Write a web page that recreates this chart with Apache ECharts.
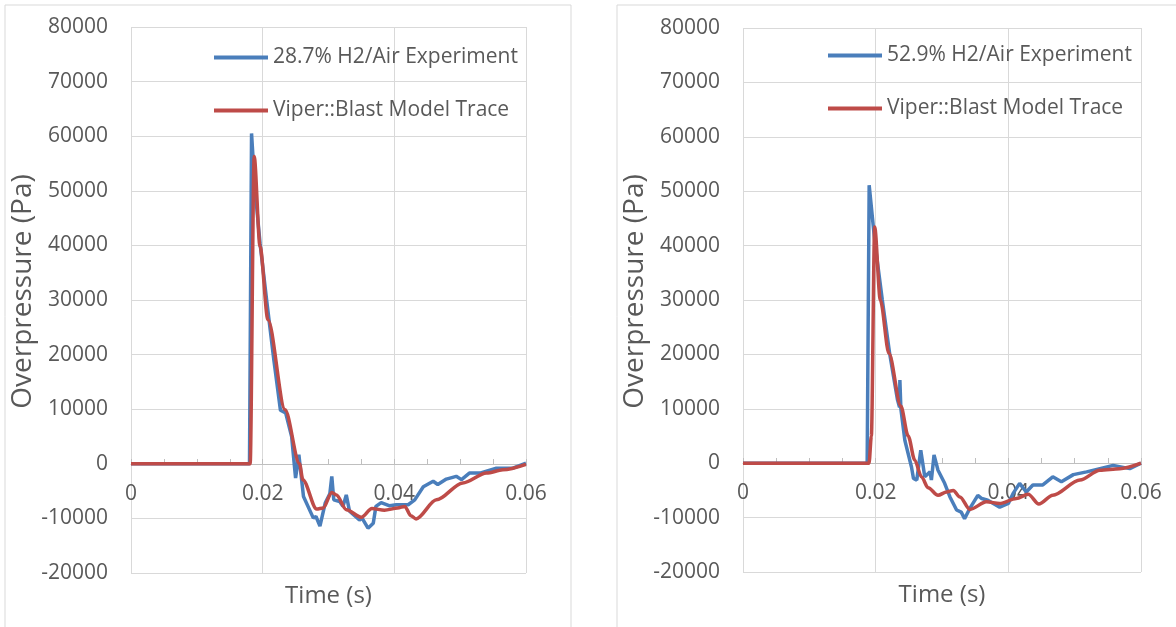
<!DOCTYPE html>
<html>
<head>
<meta charset="utf-8">
<script src="https://cdn.jsdelivr.net/npm/echarts@6/dist/echarts.min.js"></script>
<style>
  html, body { margin: 0; padding: 0; background: #fff; }
  #chart { width: 1176px; height: 627px; }
</style>
</head>
<body>
<div id="chart"></div>
<script>
// time (s) and overpressure (Pa)
const leftExpTime = [0, 0.0180, 0.01831, 0.0188, 0.0196, 0.0206, 0.0217, 0.0227, 0.0229, 0.0235, 0.0244, 0.0250, 0.0255, 0.0262, 0.0277, 0.0281, 0.0287, 0.0295, 0.0302, 0.0305, 0.0308, 0.0317, 0.0322, 0.0327, 0.0332, 0.0347, 0.0351, 0.0360, 0.0368, 0.0372, 0.0380, 0.0393, 0.0403, 0.0421, 0.0431, 0.0444, 0.0459, 0.0466, 0.0479, 0.0494, 0.0502, 0.0514, 0.0530, 0.0555, 0.0580, 0.0600];
const leftExpPa = [0, 0, 60500, 50800, 40400, 30000, 19000, 9800, 9600, 9300, 5000, -2600, 1650, -6000, -9950, -9650, -11400, -7200, -5500, -2300, -6600, -6900, -7800, -5700, -8700, -10300, -9950, -11800, -10900, -7800, -7100, -7700, -7500, -7500, -6600, -4200, -3200, -3800, -2800, -2300, -2900, -1700, -1700, -800, -800, 100];

const leftModTime = [0, 0.0181, 0.01871, 0.0196, 0.0208, 0.0234, 0.0256, 0.0261, 0.0282, 0.0292, 0.0305, 0.0312, 0.0327, 0.0350, 0.0366, 0.0385, 0.0405, 0.0416, 0.0425, 0.0433, 0.0464, 0.0504, 0.0540, 0.0565, 0.0600];
const leftModPa = [0, 0, 56300, 39800, 26400, 9900, 0, -2900, -8300, -8100, -5250, -5700, -8400, -9800, -8200, -8500, -8100, -7800, -9500, -10100, -6600, -3500, -1700, -1100, -100];

const rightExpTime = [0, 0.01872, 0.01902, 0.0199, 0.0210, 0.0221, 0.0233, 0.0236, 0.02365, 0.0238, 0.0244, 0.0254, 0.0257, 0.0262, 0.0268, 0.0274, 0.0282, 0.0284, 0.0288, 0.0294, 0.0304, 0.0312, 0.0322, 0.0329, 0.0334, 0.0342, 0.0354, 0.0360, 0.0369, 0.0387, 0.0400, 0.0407, 0.0417, 0.0427, 0.0437, 0.0452, 0.0467, 0.0480, 0.0498, 0.0518, 0.0538, 0.0558, 0.0583, 0.0600];
const rightExpPa = [0, 0, 51100, 40400, 30000, 20200, 11600, 10300, 15300, 10000, 4200, -700, -2800, -3100, 2400, -2500, -1600, -3100, 1500, -1300, -3700, -6200, -8600, -9000, -10200, -8300, -5900, -6500, -6800, -8100, -7400, -5600, -3700, -5300, -4000, -4000, -2500, -3400, -2100, -1600, -1000, -400, -1000, 0];

const rightModTime = [0, 0.0190, 0.01935, 0.01985, 0.0207, 0.0220, 0.0238, 0.0249, 0.0259, 0.0269, 0.0279, 0.0294, 0.0307, 0.0317, 0.0327, 0.0342, 0.0367, 0.0387, 0.0412, 0.0430, 0.0446, 0.0467, 0.0508, 0.0538, 0.0568, 0.0600];
const rightModPa = [0, 0, 5000, 43400, 30000, 20200, 10500, 5000, 550, -2500, -4500, -5900, -5300, -5000, -6200, -8500, -7100, -7400, -6500, -5700, -7500, -5900, -3100, -1300, -1000, 0];

const xTicks = [0, 0.02, 0.04, 0.06];
const legendLeft = ['28.7% H2/Air Experiment', 'Viper::Blast Model Trace'];
const legendRight = ['52.9% H2/Air Experiment', 'Viper::Blast Model Trace'];

const pairs = (ts, ps) => ts.map((t, i) => [t, ps[i]]);

const FONT = '"Open Sans", "Noto Sans", sans-serif';
const TXT = '#595959';
const GRID = '#d9d9d9';
const BLUE = '#4a7ebb';
const RED = '#be4b48';

// x axis sits on the zero line: 109px up from the bottom of the plot
const xAxisOf = (gi) => ({
  type: 'value', gridIndex: gi, position: 'bottom', offset: -109,
  min: xTicks[0], max: xTicks[xTicks.length - 1], interval: 0.02,
  name: 'Time (s)', nameLocation: 'middle', nameGap: 120,
  nameTextStyle: { color: TXT, fontSize: 24, fontFamily: FONT },
  axisLine: { onZero: false, lineStyle: { color: '#bfbfbf', width: 1 } },
  axisTick: { show: true, inside: true, length: 5, lineStyle: { color: '#bfbfbf' } },
  minorTick: { show: true, splitNumber: 4, length: 5, lineStyle: { color: '#bfbfbf' } },
  axisLabel: { color: TXT, fontSize: 21, fontFamily: FONT, margin: 20 },
  splitLine: { show: true, lineStyle: { color: GRID, width: 1 } }
});

const yAxisOf = (gi) => ({
  type: 'value', gridIndex: gi,
  min: -20000, max: 80000, interval: 10000,
  name: 'Overpressure (Pa)', nameLocation: 'middle', nameGap: 87,
  nameTextStyle: { color: TXT, fontSize: 28, fontFamily: FONT, padding: [0, 0, 0, 17] },
  axisLine: { show: false, onZero: false },
  axisTick: { show: false },
  axisLabel: { color: TXT, fontSize: 21, fontFamily: FONT, margin: 23, formatter: (v) => String(v) },
  splitLine: { show: true, lineStyle: { color: GRID, width: 1 } }
});

const legendOf = (left, top, names) => ({
  orient: 'vertical', left: left, top: top, padding: 0, itemGap: 32,
  itemWidth: 54, itemHeight: 4, icon: 'rect',
  data: names,
  textStyle: { color: TXT, fontSize: 21, fontFamily: FONT }
});

const lineSeries = (name, color, xi, data, smooth) => ({
  name: name, type: 'line', xAxisIndex: xi, yAxisIndex: xi,
  data: data, showSymbol: false, smooth: smooth, smoothMonotone: 'x',
  lineStyle: { color: color, width: 3.5 }, itemStyle: { color: color }
});

const chart = echarts.init(document.getElementById('chart'));
chart.setOption({
  animation: false,
  backgroundColor: '#fff',
  graphic: [
    { type: 'rect', shape: { x: 5, y: 5, width: 566, height: 700 }, style: { fill: 'none', stroke: GRID, lineWidth: 1 } },
    { type: 'rect', shape: { x: 617, y: 5, width: 620, height: 700 }, style: { fill: 'none', stroke: GRID, lineWidth: 1 } }
  ],
  grid: [
    { left: 131, top: 27, width: 395, height: 546, outerBoundsMode: 'none' },
    { left: 743, top: 28, width: 398, height: 544, outerBoundsMode: 'none' }
  ],
  xAxis: [xAxisOf(0), xAxisOf(1)],
  yAxis: [yAxisOf(0), yAxisOf(1)],
  legend: [legendOf(214, 47, legendLeft), legendOf(828, 45, legendRight)],
  series: [
    lineSeries(legendLeft[0], BLUE, 0, pairs(leftExpTime, leftExpPa), false),
    lineSeries(legendLeft[1], RED, 0, pairs(leftModTime, leftModPa), 0.3),
    lineSeries(legendRight[0], BLUE, 1, pairs(rightExpTime, rightExpPa), false),
    lineSeries(legendRight[1], RED, 1, pairs(rightModTime, rightModPa), 0.3)
  ]
});
window.onresize = function () { chart.resize(); };
</script>
</body>
</html>
